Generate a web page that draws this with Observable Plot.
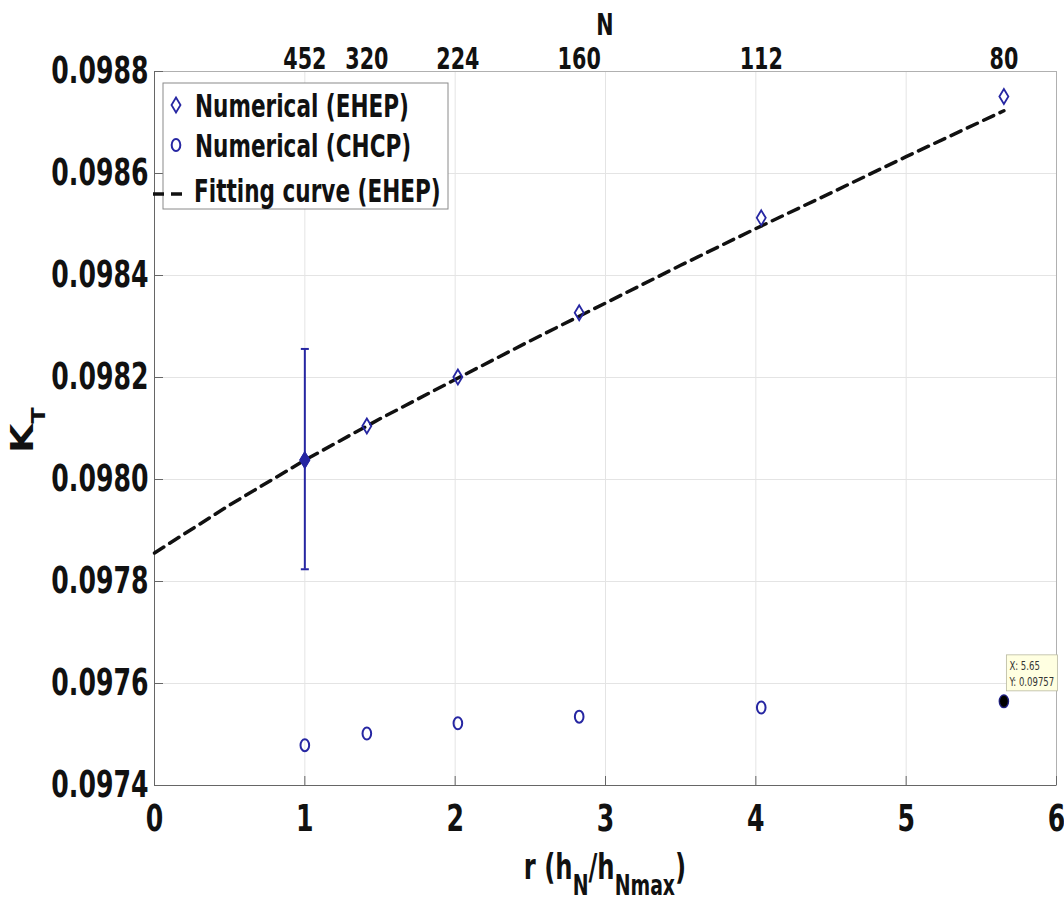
<!DOCTYPE html>
<html><head><meta charset="utf-8">
<script src="https://cdn.jsdelivr.net/npm/d3@7"></script>
<script src="https://cdn.jsdelivr.net/npm/@observablehq/plot@0.6"></script>
<style>body{margin:0;background:#fff} svg{display:block}</style>
</head><body><div id="chart"></div>
<script>
// ---- data ----
const rValues = [1, 1.4125, 2.018, 2.825, 4.036, 5.65];
const nLabels = [452, 320, 224, 160, 112, 80];
const kEHEP = [0.098038, 0.098105, 0.098201, 0.098327, 0.098513, 0.098751];
const kCHCP = [0.097479, 0.097502, 0.097522, 0.097535, 0.097553, 0.097565];
const errR = [1];
const errLow = [0.097824];
const errHigh = [0.098256];
const fitR = [0, 0.5, 1, 1.5, 2, 2.5, 3, 3.5, 4, 4.5, 5, 5.65];
const fitK = [0.097856, 0.097950, 0.098038, 0.098119, 0.098196, 0.098272, 0.098346, 0.098420, 0.098492, 0.098562, 0.098633, 0.098723];
const xTicks = [0, 1, 2, 3, 4, 5, 6];
const yTicks = [0.0974, 0.0976, 0.0978, 0.0980, 0.0982, 0.0984, 0.0986, 0.0988];
const tipIndex = 5;
const tipLines = ["X: 5.65", "Y: 0.09757"];
const legendLabels = ["Numerical (EHEP)", "Numerical (CHCP)", "Fitting curve (EHEP)"];
const topTitle = "N";

// ---- styling ----
const blue = "#2626a2";
const FONT = '"DejaVu Sans Condensed", "DejaVu Sans", sans-serif';
const SY = 1.32; // vertical stretch of the original image text

const tallDiamond = {draw(ctx, size) {
  const r = Math.sqrt(size / Math.PI), w = r * 0.6;
  ctx.moveTo(0, -r); ctx.lineTo(w, 0); ctx.lineTo(0, r); ctx.lineTo(-w, 0); ctx.closePath();
}};
const ellipse = {draw(ctx, size) {
  const r = Math.sqrt(size / Math.PI), rx = r * 0.72, ry = r, k = 0.5523;
  ctx.moveTo(rx, 0);
  ctx.bezierCurveTo(rx, k * ry, k * rx, ry, 0, ry);
  ctx.bezierCurveTo(-k * rx, ry, -rx, k * ry, -rx, 0);
  ctx.bezierCurveTo(-rx, -k * ry, -k * rx, -ry, 0, -ry);
  ctx.bezierCurveTo(k * rx, -ry, rx, -k * ry, rx, 0);
  ctx.closePath();
}};
const capSym = {draw(ctx, size) {
  const r = Math.sqrt(size / Math.PI);
  ctx.moveTo(-r, 0); ctx.lineTo(r, 0);
}};

const ehep = rValues.map((r, i) => ({r, k: kEHEP[i], i}));
const chcp = rValues.map((r, i) => ({r, k: kCHCP[i], i}));
const fit = fitR.map((r, i) => ({r, k: fitK[i]}));
const err = errR.map((r, i) => ({r, lo: errLow[i], hi: errHigh[i]}));
const caps = err.flatMap(d => [{r: d.r, k: d.lo}, {r: d.r, k: d.hi}]);
const nByR = new Map(rValues.map((r, i) => [r, nLabels[i]]));

const M = {left: 154, right: 8, top: 71, bottom: 122};
const plot = Plot.plot({
  width: 1064, height: 907,
  marginLeft: M.left, marginRight: M.right, marginTop: M.top, marginBottom: M.bottom,
  style: {fontFamily: FONT, fontWeight: "bold", background: "white", color: "#111"},
  x: {domain: [xTicks[0], xTicks[xTicks.length - 1]]},
  y: {domain: [yTicks[0], yTicks[yTicks.length - 1]]},
  marks: [
    Plot.gridX(xTicks, {stroke: "#e4e4e4", strokeOpacity: 1}),
    Plot.gridY(yTicks, {stroke: "#e4e4e4", strokeOpacity: 1}),
    Plot.frame({stroke: "#b0b0b0"}),
    Plot.ruleX([xTicks[0]], {stroke: "#666"}),
    Plot.ruleY([yTicks[0]], {stroke: "#666"}),
    Plot.ruleX(xTicks, {y1: () => yTicks[0], y2: () => yTicks[0], insetTop: -9, stroke: "#666"}),
    Plot.ruleY(yTicks, {x1: () => xTicks[0], x2: () => xTicks[0], insetRight: -9, stroke: "#666"}),
    Plot.axisX(xTicks, {anchor: "bottom", tickSize: 0, tickPadding: 19, fontSize: 28, tickFormat: d3.format("d"), label: null}),
    Plot.axisY(yTicks, {anchor: "left", tickSize: 0, tickPadding: 6, fontSize: 28, tickFormat: d3.format(".4f"), label: null}),
    Plot.axisX(rValues, {anchor: "top", tickSize: 0, tickPadding: 3, fontSize: 23, tickFormat: d => nByR.get(d), label: null}),
    Plot.line(fit, {x: "r", y: "k", stroke: "#111", strokeWidth: 3.5, strokeDasharray: "11,7"}),
    Plot.ruleX(err, {x: "r", y1: "lo", y2: "hi", stroke: blue, strokeWidth: 2}),
    Plot.dot(caps, {x: "r", y: "k", symbol: capSym, r: 4, stroke: blue, strokeWidth: 2}),
    Plot.dot(ehep, {x: "r", y: "k", symbol: tallDiamond, r: 7.5, stroke: blue, strokeWidth: 1.8, fill: "none"}),
    Plot.dot(ehep, {filter: d => d.i === 0, x: "r", y: "k", symbol: tallDiamond, r: 7.5, stroke: blue, strokeWidth: 1.8, fill: blue}),
    Plot.dot(chcp, {x: "r", y: "k", symbol: ellipse, r: 6, stroke: blue, strokeWidth: 2, fill: "none"}),
    Plot.dot(chcp, {filter: d => d.i === tipIndex, x: "r", y: "k", symbol: ellipse, r: 6, stroke: "#22226a", strokeWidth: 1, fill: "#000"})
  ]
});
document.getElementById("chart").appendChild(plot);

// stretch Plot's texts vertically like the original (about each text's own anchor)
plot.querySelectorAll("text").forEach(el => {
  const t = el.getAttribute("transform") || "";
  el.setAttribute("transform", `${t} scale(1,${SY})`);
});

const svg = d3.select(plot);
const sx = plot.scale("x"), sy = plot.scale("y");
const W = 1064;

function stretchedText(g, x, y, size, anchor) {
  return g.append("text")
    .attr("transform", `translate(${x},${y}) scale(1,${SY})`)
    .attr("text-anchor", anchor || "start")
    .attr("font-family", FONT).attr("font-weight", "bold")
    .attr("font-size", size).attr("fill", "#111");
}

// top title N
stretchedText(svg, (M.left + W - M.right) / 2, 35, 23, "middle").text(topTitle);

// x label r (h_N/h_Nmax)
const xl = stretchedText(svg, (M.left + W - M.right) / 2, 879, 27, "middle");
xl.append("tspan").text("r (h");
xl.append("tspan").attr("font-size", 21).attr("dy", 12).text("N");
xl.append("tspan").attr("dy", -12).text("/h");
xl.append("tspan").attr("font-size", 21).attr("dy", 12).text("Nmax");
xl.append("tspan").attr("dy", -12).text(")");

// y label K_T
const yl = svg.append("text")
  .attr("transform", `translate(33,453) scale(1,${SY}) rotate(-90)`)
  .attr("text-anchor", "start")
  .attr("font-family", FONT).attr("font-weight", "bold").attr("font-size", 32).attr("fill", "#111");
yl.append("tspan").text("K");
yl.append("tspan").attr("font-size", 20).attr("dy", 12).text("T");

// legend
const lg = svg.append("g");
const L = {x: M.left + 9, y: M.top + 12, w: 285, h: 126};
lg.append("rect").attr("x", L.x).attr("y", L.y).attr("width", L.w).attr("height", L.h)
  .attr("fill", "white").attr("stroke", "#8a8a8a").attr("stroke-width", 1);
const rowBase = [117, 157, 202];
const rowMid = [105, 145, 194];
lg.append("path").attr("d", d3.symbol(tallDiamond, Math.PI * 7.5 * 7.5)())
  .attr("transform", `translate(176,${rowMid[0]})`).attr("fill", "none").attr("stroke", blue).attr("stroke-width", 1.8);
lg.append("path").attr("d", d3.symbol(ellipse, Math.PI * 6 * 6)())
  .attr("transform", `translate(176,${rowMid[1]})`).attr("fill", "none").attr("stroke", blue).attr("stroke-width", 2);
lg.append("line").attr("x1", 153).attr("x2", 185).attr("y1", rowMid[2]).attr("y2", rowMid[2])
  .attr("stroke", "#111").attr("stroke-width", 3.5).attr("stroke-dasharray", "11,7");
legendLabels.forEach((s, i) => stretchedText(lg, i === 2 ? 194 : 195, rowBase[i], 24).text(s));

// data tip
const px = sx.apply(rValues[tipIndex]), py = sy.apply(kCHCP[tipIndex]);
const tg = svg.append("g");
tg.append("rect").attr("x", px + 3).attr("y", py - 46).attr("width", 51).attr("height", 36)
  .attr("fill", "#ffffe1").attr("stroke", "#b8b8a0").attr("stroke-width", 0.8);
tipLines.forEach((s, i) => tg.append("text")
  .attr("transform", `translate(${px + 6},${py - 31 + i * 16}) scale(1,${SY})`)
  .attr("text-anchor", "start").attr("font-weight", "normal")
  .attr("font-family", FONT).attr("font-size", 9.5).attr("fill", "#333").text(s));
</script>
</body></html>
